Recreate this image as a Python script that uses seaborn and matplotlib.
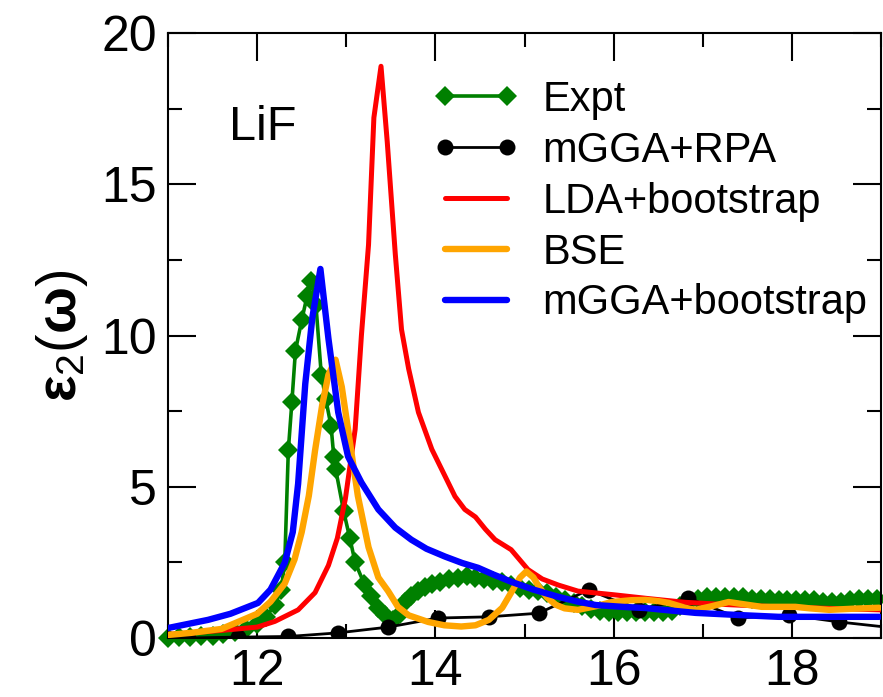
import matplotlib
matplotlib.use("Agg")
import matplotlib.pyplot as plt
import seaborn as sns
from matplotlib.ticker import MultipleLocator

# ---------------- data ----------------
expt_x = [11.0, 11.12, 11.25, 11.37, 11.5, 11.62, 11.75, 11.87, 12.0, 12.1, 12.2, 12.27,
          12.31, 12.35, 12.39, 12.43, 12.5, 12.56, 12.61, 12.66, 12.72, 12.77, 12.83, 12.86,
          12.88, 12.97, 13.04, 13.1, 13.2, 13.28, 13.36, 13.44, 13.52, 13.6, 13.66, 13.73,
          13.8, 13.88, 13.96, 14.05, 14.15, 14.25, 14.35, 14.45, 14.55, 14.65, 14.75, 14.85,
          14.95, 15.05, 15.15, 15.25, 15.35, 15.45, 15.55, 15.65, 15.75, 15.85, 15.95, 16.05,
          16.15, 16.25, 16.35, 16.45, 16.55, 16.65, 16.75, 16.85, 16.95, 17.05, 17.15, 17.25,
          17.35, 17.45, 17.55, 17.65, 17.75, 17.85, 17.95, 18.05, 18.15, 18.25, 18.35, 18.45,
          18.55, 18.65, 18.75, 18.85, 18.95]
expt_y = [0.0, 0.02, 0.04, 0.05, 0.08, 0.12, 0.2, 0.3, 0.45, 0.7, 1.1, 1.6,
          2.5, 6.2, 7.8, 9.5, 10.5, 11.3, 11.8, 11.0, 8.7, 7.9, 7.0, 6.0,
          5.6, 4.2, 3.3, 2.5, 1.8, 1.4, 1.0, 0.75, 0.6, 0.8, 1.2, 1.4,
          1.55, 1.7, 1.8, 1.85, 1.95, 2.0, 2.05, 2.0, 1.95, 1.9, 1.85, 1.75,
          1.65, 1.6, 1.55, 1.5, 1.35, 1.25, 1.15, 1.05, 0.95, 0.9, 0.85, 0.85,
          0.85, 0.85, 0.85, 0.85, 0.85, 0.9, 1.05, 1.2, 1.3, 1.35, 1.35, 1.35,
          1.35, 1.35, 1.3, 1.3, 1.3, 1.25, 1.25, 1.25, 1.25, 1.25, 1.2, 1.2,
          1.2, 1.25, 1.3, 1.3, 1.3]

rpa_x = [10.66, 11.22, 11.79, 12.35, 12.91, 13.47, 14.03, 14.6, 15.16, 15.72, 16.28,
         16.84, 17.4, 17.97, 18.53, 19.09]
rpa_y = [0.0, 0.0, 0.03, 0.05, 0.17, 0.36, 0.66, 0.7, 0.82, 1.59, 0.93,
         1.32, 0.66, 0.76, 0.53, 0.35]

lda_x = [11.0, 11.26, 11.6, 12.0, 12.2, 12.46, 12.65, 12.8, 12.9, 12.99, 13.1, 13.17,
         13.25, 13.31, 13.39, 13.46, 13.55, 13.62, 13.7, 13.81, 13.96, 14.1, 14.22, 14.33,
         14.45, 14.56, 14.67, 14.85, 15.04, 15.2, 15.38, 15.6, 16.0, 16.4, 16.8, 17.3,
         17.85, 18.4, 19.0]
lda_y = [0.12, 0.17, 0.25, 0.36, 0.55, 0.93, 1.5, 2.4, 3.3, 4.6, 6.9, 10.0,
         13.0, 17.2, 18.9, 16.4, 12.7, 10.2, 8.9, 7.46, 6.24, 5.4, 4.68, 4.25,
         4.0, 3.6, 3.25, 2.92, 2.26, 1.95, 1.75, 1.55, 1.43, 1.3, 1.18, 1.1,
         1.03, 0.98, 0.93]

bse_x = [11.0, 11.26, 11.6, 12.0, 12.15, 12.31, 12.42, 12.5, 12.58, 12.65, 12.73, 12.8,
         12.88, 12.95, 13.02, 13.13, 13.25, 13.36, 13.47, 13.58, 13.7, 13.92, 14.1, 14.29,
         14.45, 14.6, 14.75, 14.85, 14.95, 15.02, 15.1, 15.16, 15.25, 15.35, 15.45, 15.6,
         15.8, 15.98, 16.2, 16.36, 16.5, 16.62, 16.8, 16.92, 17.1, 17.29, 17.45, 17.66,
         18.04, 18.2, 18.42, 18.7, 18.98]
bse_y = [0.1, 0.17, 0.3, 0.8, 1.2, 1.8, 2.6, 3.5, 4.7, 6.2, 7.7, 8.7,
         9.2, 8.3, 6.9, 4.7, 3.0, 2.0, 1.55, 1.03, 0.75, 0.53, 0.42, 0.38,
         0.42, 0.6, 1.0, 1.5, 2.0, 2.2, 2.0, 1.7, 1.35, 1.1, 0.98, 0.93,
         1.05, 1.19, 1.25, 1.26, 1.22, 1.16, 1.0, 0.93, 1.05, 1.19, 1.12, 1.03,
         1.03, 0.98, 0.93, 0.97, 1.0]

mboot_x = [11.0, 11.2, 11.45, 11.7, 12.01, 12.15, 12.31, 12.4, 12.46, 12.54, 12.62, 12.71,
           12.8, 12.91, 13.02, 13.17, 13.36, 13.55, 13.73, 13.9, 14.11, 14.3, 14.48, 14.65,
           14.85, 15.1, 15.38, 15.6, 15.8, 16.1, 16.36, 16.6, 16.92, 17.4, 17.85, 18.4, 18.98]
mboot_y = [0.33, 0.45, 0.6, 0.8, 1.16, 1.6, 2.49, 3.5, 5.1, 8.4, 10.6, 12.2,
           9.9, 7.46, 6.0, 5.14, 4.25, 3.65, 3.25, 2.95, 2.69, 2.48, 2.32, 2.1,
           1.86, 1.6, 1.36, 1.2, 1.09, 1.03, 0.99, 0.92, 0.83, 0.76, 0.7, 0.7, 0.7]

x_ticks = [12, 14, 16, 18]
y_ticks = [0, 5, 10, 15, 20]

# ---------------- style ----------------
sns.set_theme(style="ticks")
plt.rcParams['font.family'] = ['Liberation Sans', 'DejaVu Sans']
plt.rcParams['mathtext.fontset'] = 'custom'
plt.rcParams['mathtext.rm'] = 'Liberation Sans'
plt.rcParams['mathtext.it'] = 'Liberation Sans:italic'
plt.rcParams['mathtext.bf'] = 'Liberation Sans:bold'
for k in ['text.color', 'axes.labelcolor', 'xtick.color', 'ytick.color',
          'xtick.labelcolor', 'ytick.labelcolor', 'axes.edgecolor']:
    plt.rcParams[k] = 'black'

fig = plt.figure(figsize=(8.83, 6.97), dpi=100)
ax = fig.add_axes([168/883, 1-638/697, (881-168)/883, (638-33)/697])

sns.lineplot(x=expt_x, y=expt_y, ax=ax, color='#008000', lw=2.6, marker='D',
             markersize=10.5, markeredgewidth=0, label='Expt', sort=False, clip_on=False,
             zorder=2)
sns.lineplot(x=rpa_x, y=rpa_y, ax=ax, color='black', lw=2.0, marker='o',
             markersize=11.5, markeredgewidth=0, label='mGGA+RPA', sort=False, zorder=3)
sns.lineplot(x=lda_x, y=lda_y, ax=ax, color='#ff0000', lw=3.6, label='LDA+bootstrap',
             sort=False, zorder=4)
sns.lineplot(x=bse_x, y=bse_y, ax=ax, color='#ffa500', lw=4.6, label='BSE',
             sort=False, zorder=5)
sns.lineplot(x=mboot_x, y=mboot_y, ax=ax, color='#0000ff', lw=4.6, label='mGGA+bootstrap',
             sort=False, zorder=6)

ax.set_xlim(11, 19)
ax.set_ylim(0, 20)
ax.set_xticks(x_ticks)
ax.set_yticks(y_ticks)
ax.xaxis.set_minor_locator(MultipleLocator(1))
ax.yaxis.set_minor_locator(MultipleLocator(2.5))
ax.tick_params(which='both', direction='in', top=True, right=True, width=1.5, color='black')
ax.tick_params(which='major', length=20, labelsize=36)
ax.tick_params(which='minor', length=10)
ax.tick_params(axis='x', which='major', pad=8)
ax.tick_params(axis='y', which='major', pad=8)
for s in ax.spines.values():
    s.set_linewidth(1.5)
    s.set_color('black')

ax.set_xlabel('')
ax.set_ylabel(r'$\mathbf{\varepsilon}_{2}(\mathbf{\omega})$', fontsize=40, labelpad=8)

ax.text(0.0856, 0.823, 'LiF', transform=ax.transAxes, fontsize=35, va='baseline', ha='left')

leg = ax.legend(loc='upper left', bbox_to_anchor=(432/883, 1-80/697),
                bbox_transform=fig.transFigure, frameon=False, fontsize=30,
                handlelength=2.1, handletextpad=0.55, labelspacing=0.26,
                borderpad=0, borderaxespad=0, numpoints=2)

fig.savefig('out.png', dpi=100)
